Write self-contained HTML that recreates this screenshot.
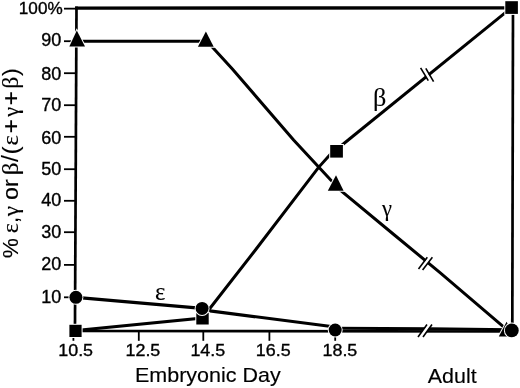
<!DOCTYPE html>
<html><head><meta charset="utf-8"><title>Globin switching</title>
<style>
html,body{margin:0;padding:0;background:#fff;}
body{width:520px;height:388px;overflow:hidden;}
svg{display:block;}
.s{font-family:"Liberation Sans",sans-serif;fill:#000;stroke:#000;stroke-width:0.35px;}
.g{font-family:"Liberation Serif","DejaVu Serif",serif;fill:#000;stroke:#000;stroke-width:0.1px;}
.t,.t tspan{stroke-width:0.12px;}
</style></head><body>
<svg width="520" height="388" viewBox="0 0 520 388">
<rect width="520" height="388" fill="#fff"/>
<!-- axes -->
<g stroke="#000" stroke-width="2.7" fill="none" stroke-linecap="butt">
<line x1="76.5" y1="6.6" x2="74.95" y2="332.4"/>
<line stroke-width="3.3" x1="75.1" y1="8.05" x2="512" y2="7.9"/>
<line x1="513" y1="7" x2="512.3" y2="331"/>
<line x1="73.6" y1="331" x2="512" y2="331.5"/>
</g>
<!-- y ticks -->
<g stroke="#000" stroke-width="1.8">
<line x1="64" y1="8.65" x2="76" y2="8.65"/>
<line x1="64" y1="41.2" x2="76" y2="41.2"/>
<line x1="64" y1="73.2" x2="76" y2="73.2"/>
<line x1="64" y1="105.2" x2="76" y2="105.2"/>
<line x1="64" y1="136.8" x2="76" y2="136.8"/>
<line x1="64" y1="169.2" x2="76" y2="169.2"/>
<line x1="64" y1="200.8" x2="76" y2="200.8"/>
<line x1="64" y1="232.2" x2="76" y2="232.2"/>
<line x1="64" y1="264.9" x2="76" y2="264.9"/>
<line x1="64" y1="297.3" x2="76" y2="297.3"/>
</g>
<!-- x ticks -->
<g stroke="#000" stroke-width="1.8">
<line x1="73.4" y1="331" x2="73.4" y2="340.8"/>
<line x1="138.8" y1="331" x2="138.8" y2="340.8"/>
<line x1="203.3" y1="331" x2="203.3" y2="340.8"/>
<line x1="269.4" y1="331" x2="269.4" y2="340.8"/>
<line x1="335.2" y1="331" x2="335.2" y2="340.8"/>
</g>
<!-- data lines -->
<g stroke="#000" stroke-width="3" fill="none" stroke-linejoin="miter">
<polyline points="77,41.2 205.8,41.2"/>
<polyline points="207.2,41.5 232.6,69.3 293.6,140 330.5,179.8 335.7,185"/>
<polyline points="335.7,186.3 394.4,235 440,272.6 506.5,329.3"/>
<polyline points="76,330.5 202.4,318 255.4,250 318.4,167.6 332,152.5"/>
<polyline points="336.5,149.5 511.6,7.6"/>
<polyline stroke-width="3.3" points="76,297.3 202.1,308.4"/>
<polyline stroke-width="3.2" points="202.1,309.8 335.2,327"/>
<polyline points="335.2,328.3 430,328.7 512,329.7"/>
</g>
<!-- markers -->
<g fill="#000" stroke="#fff" stroke-width="2" paint-order="stroke">
<polygon points="76.8,30.4 69.3,46.4 85,46.4"/>
<polygon points="205.9,31.5 197.9,46.8 213.7,46.8"/>
<polygon points="336,175.2 327.8,190.8 343.6,190.8"/>
<polygon points="506.6,321.8 498.8,336.5 514.4,336.5"/>
<rect x="69.4" y="324.8" width="12.2" height="12.2"/>
<rect x="196.3" y="312.8" width="12.4" height="11.7"/>
<rect x="330.2" y="145" width="12.7" height="12.6"/>
<rect x="505.3" y="1.2" width="12.6" height="12.7"/>
<circle cx="202.1" cy="308.4" r="6.5"/>
<circle cx="75.9" cy="297.3" r="6.5"/>
<circle cx="335.2" cy="330" r="6.5"/>
<circle cx="511.8" cy="330.4" r="6.9"/>
</g>
<!-- break marks -->
<g stroke="#fff" stroke-width="3.4" fill="none">
<line x1="423.5" y1="69" x2="430.5" y2="81"/>
<line x1="420.5" y1="270" x2="430" y2="257.5"/>
<line x1="420.5" y1="337" x2="429.5" y2="324.5"/>
</g>
<g stroke="#000" stroke-width="1.6" fill="none">
<line x1="420.6" y1="67.8" x2="428.3" y2="80.7"/>
<line x1="425.8" y1="68.3" x2="433.6" y2="81.6"/>
<line x1="418.5" y1="268.9" x2="427.3" y2="257.3"/>
<line x1="422.6" y1="270" x2="432.4" y2="257.3"/>
<line x1="418" y1="337" x2="427" y2="324.5"/>
<line x1="423" y1="337" x2="432" y2="324.5"/>
</g>
<!-- y labels -->
<g class="s" font-size="17.5" text-anchor="end">
<text font-size="17" transform="translate(62.7,13.7) scale(1.01,1)">100%</text>
<text transform="translate(61.3,46.4) scale(1.03,1)">90</text>
<text transform="translate(61.3,80.0) scale(1.03,1)">80</text>
<text transform="translate(61.3,111.1) scale(1.03,1)">70</text>
<text transform="translate(61.3,143.6) scale(1.03,1)">60</text>
<text transform="translate(61.3,175.4) scale(1.03,1)">50</text>
<text transform="translate(61.3,205.9) scale(1.03,1)">40</text>
<text transform="translate(61.3,237.9) scale(1.03,1)">30</text>
<text transform="translate(61.3,270.3) scale(1.03,1)">20</text>
<text transform="translate(61.3,302.5) scale(1.03,1)">10</text>
</g>
<!-- x labels -->
<g class="s" font-size="17.3" text-anchor="middle">
<text transform="translate(75.65,356) scale(1.035,1)">10.5</text>
<text transform="translate(142.9,356) scale(1.035,1)">12.5</text>
<text transform="translate(207.8,356) scale(1.035,1)">14.5</text>
<text transform="translate(273.2,356) scale(1.035,1)">16.5</text>
<text transform="translate(339.9,356) scale(1.035,1)">18.5</text>
</g>
<text class="s" style="stroke-width:0.15px" font-size="20" transform="translate(135,382) scale(1.075,1)">Embryonic Day</text>
<text class="s" style="stroke-width:0.15px" font-size="20.8" transform="translate(427.8,383) scale(1.03,1)">Adult</text>
<!-- greek labels -->
<text class="g" font-size="26" transform="translate(154.9,299.9) scale(0.95,1)">ε</text>
<text class="g" font-size="25" transform="translate(372.9,105.5) scale(1.05,1)">β</text>
<text class="g" font-size="22.5" x="382" y="216.3">γ</text>
<!-- y axis title -->
<text class="s t" transform="translate(17.7,0) rotate(-90) scale(1.06,1)"><tspan class="s" font-size="21.3" x="-243.63" y="0">%</tspan> <tspan class="g" font-size="22.8" x="-220.07" y="0">ε</tspan><tspan class="s" font-size="22.7" x="-210.66" y="0">,</tspan><tspan class="g" font-size="21.8" x="-203.92" y="0">γ</tspan> <tspan class="s" font-size="22.0" x="-188.75" y="0">or</tspan> <tspan class="g" font-size="23.6" x="-165.42" y="0">β</tspan><tspan class="s" font-size="23.2" x="-152.78" y="0">/</tspan><tspan class="s" font-size="22.9" x="-145.67" y="0">(</tspan><tspan class="g" font-size="23.2" x="-137.24" y="0">ε</tspan><tspan class="s" font-size="23.5" x="-125.89" y="1.5">+</tspan><tspan class="g" font-size="21.0" x="-110.14" y="0">γ</tspan><tspan class="s" font-size="23.5" x="-99.47" y="1.5">+</tspan><tspan class="g" font-size="22.5" x="-83.62" y="0">β</tspan><tspan class="s" font-size="22.1" x="-71.68" y="0">)</tspan></text>
</svg>
</body></html>
